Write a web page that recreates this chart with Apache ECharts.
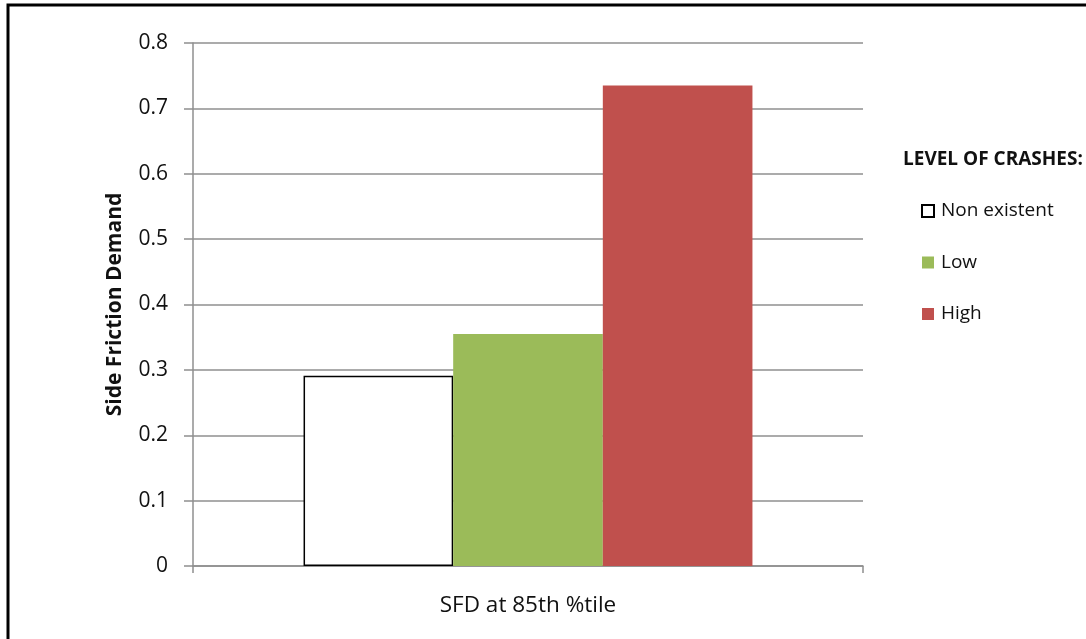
<!DOCTYPE html>
<html>
<head>
<meta charset="utf-8">
<script src="https://cdn.jsdelivr.net/npm/echarts@6/dist/echarts.min.js"></script>
<style>
html,body{margin:0;padding:0;background:#fff;}
#c{width:1086px;height:639px;}
</style>
</head>
<body>
<div id="c"></div>
<script>
const categories = ['SFD at 85th %tile'];
const seriesNames = ['Non existent', 'Low', 'High'];
const nonExistent = [0.291];
const low = [0.355];
const high = [0.735];
const yTicks = [0, 0.1, 0.2, 0.3, 0.4, 0.5, 0.6, 0.7, 0.8];

const FONT = '"Open Sans", "Noto Sans", sans-serif';
const chart = echarts.init(document.getElementById('c'), null, {renderer: 'canvas'});

const option = {
  backgroundColor: '#ffffff',
  animation: false,
  textStyle: {fontFamily: FONT},
  graphic: [{
    type: 'rect',
    shape: {x: 8, y: 5, width: 1200, height: 800},
    style: {fill: 'none', stroke: '#000', lineWidth: 3},
    silent: true, z: 100
  }],
  title: {
    text: 'LEVEL OF CRASHES:',
    left: 898, top: 143,
    textStyle: {fontFamily: FONT, fontSize: 19, fontWeight: 'bold', color: '#111', lineHeight: 24}
  },
  legend: {
    orient: 'vertical',
    left: 916, top: 194,
    itemWidth: 12, itemHeight: 12,
    itemGap: 27.5,
    icon: 'rect',
    data: seriesNames,
    textStyle: {fontFamily: FONT, fontSize: 19, color: '#111', lineHeight: 24, padding: [0, 0, 0, 2]}
  },
  grid: {left: 193, top: 43, right: 223, bottom: 73, containLabel: false},
  xAxis: {
    type: 'category',
    data: categories,
    axisLine: {show: true, lineStyle: {color: '#8f8f8f', width: 1.5}},
    axisTick: {show: true, length: 7, lineStyle: {color: '#8f8f8f', width: 1.5}},
    axisLabel: {margin: 28, fontSize: 22.5, color: '#111', fontFamily: FONT}
  },
  yAxis: {
    type: 'value',
    min: 0, max: 0.8, interval: 0.1,
    name: 'Side Friction Demand',
    nameLocation: 'middle',
    nameGap: 67,
    nameTextStyle: {fontFamily: FONT, fontSize: 21, fontWeight: 'bold', color: '#111'},
    axisLine: {show: true, lineStyle: {color: '#8f8f8f', width: 1.5}},
    axisTick: {show: true, length: 9, inside: false, lineStyle: {color: '#8f8f8f', width: 1.5}},
    splitLine: {show: true, lineStyle: {color: '#8f8f8f', width: 1.5}},
    axisLabel: {
      margin: 25, fontSize: 21, color: '#111', fontFamily: FONT,
      formatter: v => {
        const t = yTicks.find(x => Math.abs(x - v) < 1e-9);
        return t === 0 ? '0' : (t !== undefined ? t.toFixed(1) : '');
      }
    }
  },
  series: [
    {name: seriesNames[0], type: 'bar', data: nonExistent, barGap: '0%', barCategoryGap: '33%',
     itemStyle: {color: '#ffffff', borderColor: '#000000', borderWidth: 1.5}},
    {name: seriesNames[1], type: 'bar', data: low, barGap: '0%', barCategoryGap: '33%',
     itemStyle: {color: '#9bbb59'}},
    {name: seriesNames[2], type: 'bar', data: high, barGap: '0%', barCategoryGap: '33%',
     itemStyle: {color: '#c0504d'}}
  ]
};
chart.setOption(option);
</script>
</body>
</html>
